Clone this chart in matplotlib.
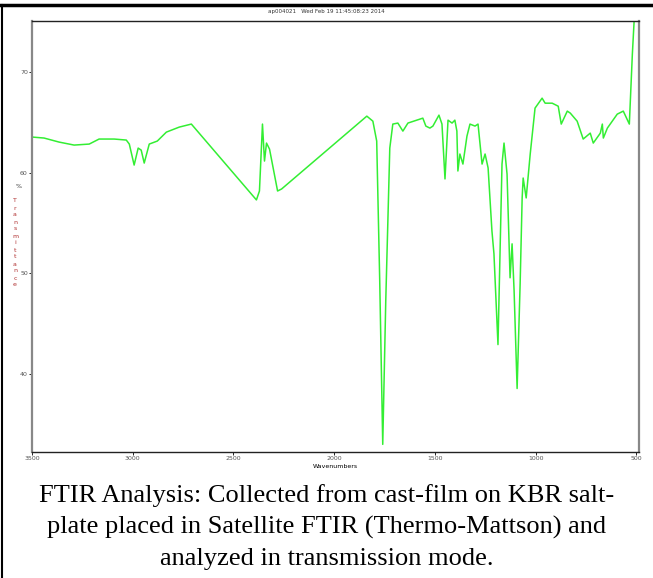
import matplotlib
matplotlib.use('Agg')
import matplotlib.pyplot as plt
from matplotlib.lines import Line2D

# spectrum: wavenumber (cm-1) vs %T
wavenumber = [3500, 3440, 3366, 3291, 3216, 3167, 3092, 3032, 3017, 2993, 2973, 2958, 2943, 2918,
              2878, 2833, 2769, 2709, 2386, 2371, 2356, 2346, 2336, 2321, 2281, 2261, 1838, 1808,
              1789, 1774, 1759, 1744, 1724, 1709, 1684, 1659, 1634, 1575, 1560, 1545, 1525, 1510,
              1480, 1465, 1450, 1435, 1415, 1401, 1391, 1386, 1376, 1361, 1341, 1326, 1301, 1286,
              1266, 1251, 1236, 1217, 1207, 1187, 1167, 1157, 1142, 1127, 1117, 1107, 1092, 1077,
              1067, 1062, 1047, 1027, 1003, 968, 953, 918, 888, 873, 843, 828, 794, 764, 729, 714,
              679, 669, 664, 644, 595, 565, 535, 520, 510]
transmittance = [63.55, 63.45, 63.05, 62.75, 62.85, 63.35, 63.35, 63.25, 62.85, 60.76, 62.45, 62.25,
                 60.96, 62.85, 63.15, 64.04, 64.54, 64.84, 57.29, 58.18, 64.84, 61.16, 62.95, 62.35,
                 58.18, 58.38, 65.63, 65.13, 63.15, 49.25, 32.96, 47.26, 62.45, 64.84, 64.94, 64.14,
                 64.94, 65.33, 65.43, 64.64, 64.44, 64.64, 65.73, 64.84, 59.38, 65.23, 64.94, 65.23,
                 64.14, 60.17, 61.86, 60.86, 63.64, 64.84, 64.64, 64.84, 60.86, 61.86, 60.47, 54.21,
                 51.93, 42.89, 60.86, 62.95, 59.87, 49.54, 52.92, 48.25, 38.52, 48.95, 57.49, 59.47,
                 57.49, 61.86, 66.43, 67.42, 66.92, 66.92, 66.62, 64.84, 66.13, 65.93, 65.13, 63.35,
                 63.94, 62.95, 63.94, 64.84, 63.45, 64.44, 65.83, 66.13, 64.84, 71.79, 75.56]

xticks = [3500, 3000, 2500, 2000, 1500, 1000, 500]
yticks = [70, 60, 50, 40]
title = 'ap004021   Wed Feb 19 11:45:08:23 2014'
caption = ('FTIR Analysis: Collected from cast-film on KBR salt-\n'
           'plate placed in Satellite FTIR (Thermo-Mattson) and\n'
           'analyzed in transmission mode.')

fig = plt.figure(figsize=(6.53, 5.78), dpi=100)
ax = fig.add_axes([32/653, 1-452/578, (639-32)/653, (452-21)/578])
ax.plot(wavenumber, transmittance, color='#33ee33', lw=1.1)
ax.set_xlim(3500, 487)
ax.set_ylim(32.2, 75.1)
ax.set_xticks(xticks)
ax.set_yticks(yticks)
ax.tick_params(labelsize=4.5, labelcolor='#555555', length=2, width=0.6, pad=1)
for s in ['left', 'right']:
    ax.spines[s].set_color('#888888'); ax.spines[s].set_linewidth(1.6)
for s in ['top', 'bottom']:
    ax.spines[s].set_color('#222222'); ax.spines[s].set_linewidth(1.0)
ax.set_xlabel('Wavenumbers', fontsize=4.5, labelpad=2)
fig.text(326/653, 1-12/578, title, fontsize=4, ha='center', va='center', color='#333333')
fig.text(19/653, 1-186/578, '%', fontsize=4.5, ha='center', va='center', color='#333333')
fig.text(15/653, 1-243/578, '\n'.join('Transmittance'), fontsize=4.5, ha='center', va='center',
         color='#b03030', linespacing=1.5)

fig.text(0.5, 1-527/578, caption, fontsize=19, ha='center', va='center',
         family='Liberation Serif', linespacing=1.5)

# outer page border
fig.add_artist(Line2D([0, 1], [1-5/578, 1-5/578], color='black', lw=2.5, transform=fig.transFigure))
fig.add_artist(Line2D([1.5/653, 1.5/653], [0, 1-5/578], color='black', lw=1.5, transform=fig.transFigure))

fig.savefig('out.png', dpi=100)
